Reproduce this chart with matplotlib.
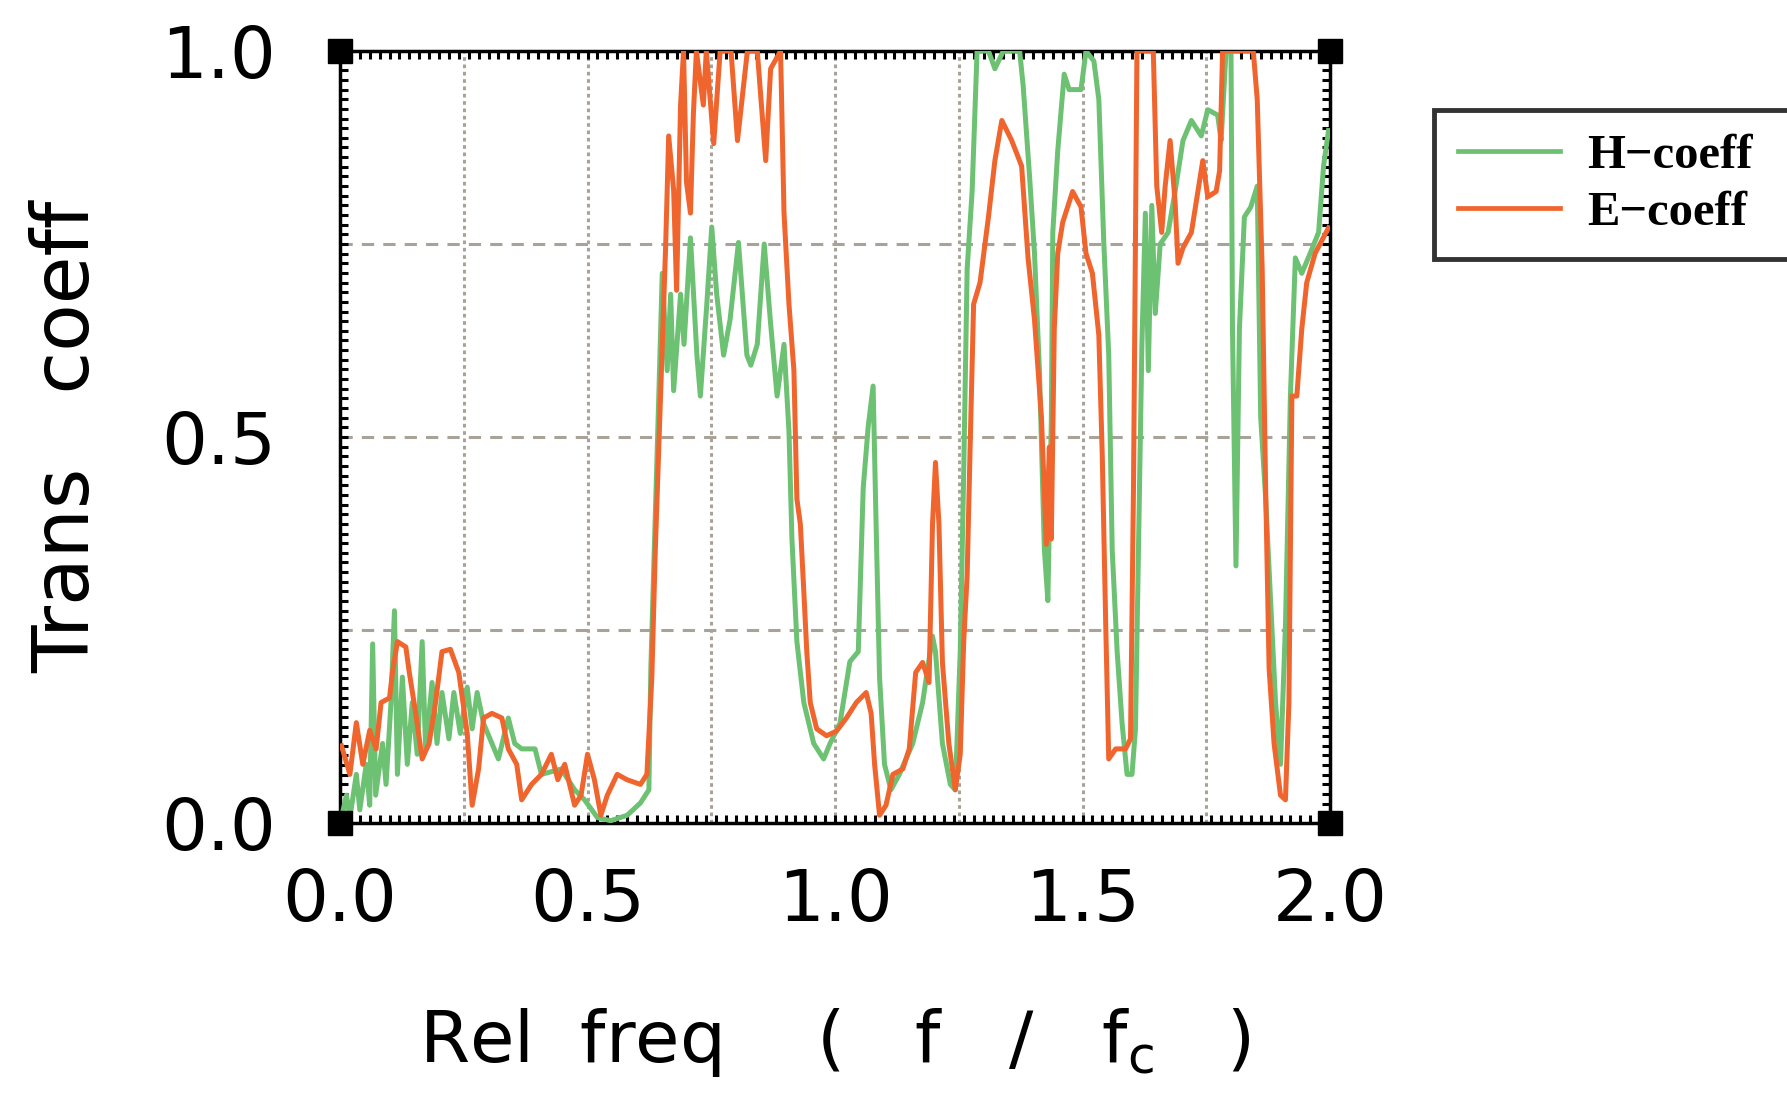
"""Transmission coefficient vs relative frequency (H and E polarisation)."""

import matplotlib
matplotlib.use("Agg")
import matplotlib.pyplot as plt
from matplotlib.ticker import MultipleLocator, FixedLocator
from matplotlib.lines import Line2D

# --- data: (relative frequency, transmission) ------------------------------
h_points = [
    (0.003, 0.007), (0.013, 0.036), (0.02, 0.007), (0.033, 0.063), (0.04, 0.017),
    (0.053, 0.076), (0.06, 0.023), (0.066, 0.232), (0.072, 0.036), (0.086, 0.103),
    (0.093, 0.05), (0.103, 0.156), (0.11, 0.275), (0.116, 0.063), (0.126, 0.189),
    (0.136, 0.076), (0.146, 0.156), (0.156, 0.089), (0.166, 0.235), (0.173, 0.096),
    (0.186, 0.182), (0.196, 0.103), (0.206, 0.169), (0.22, 0.109), (0.23, 0.169),
    (0.243, 0.116), (0.257, 0.176), (0.267, 0.122), (0.277, 0.169), (0.29, 0.129),
    (0.307, 0.103), (0.32, 0.083), (0.34, 0.136), (0.353, 0.103), (0.367, 0.096),
    (0.394, 0.096), (0.407, 0.063), (0.447, 0.07), (0.474, 0.043), (0.494, 0.03),
    (0.52, 0.007), (0.547, 0.003), (0.58, 0.01), (0.607, 0.026), (0.624, 0.043),
    (0.628, 0.202), (0.638, 0.42), (0.644, 0.553), (0.651, 0.712), (0.661, 0.586),
    (0.668, 0.685), (0.674, 0.56), (0.688, 0.685), (0.695, 0.62), (0.708, 0.758),
    (0.721, 0.606), (0.728, 0.553), (0.741, 0.672), (0.751, 0.772), (0.761, 0.685),
    (0.775, 0.606), (0.788, 0.652), (0.805, 0.752), (0.822, 0.606), (0.83, 0.593),
    (0.843, 0.62), (0.857, 0.75), (0.87, 0.646), (0.883, 0.553), (0.897, 0.62),
    (0.907, 0.507), (0.913, 0.368), (0.923, 0.235), (0.937, 0.156), (0.957, 0.103),
    (0.977, 0.083), (0.99, 0.103), (1.01, 0.129), (1.03, 0.209), (1.047, 0.222),
    (1.057, 0.434), (1.067, 0.513), (1.077, 0.566), (1.083, 0.387), (1.09, 0.189),
    (1.1, 0.076), (1.113, 0.043), (1.13, 0.063), (1.157, 0.103), (1.177, 0.156),
    (1.197, 0.242), (1.203, 0.222), (1.217, 0.103), (1.233, 0.05), (1.243, 0.043),
    (1.253, 0.222), (1.26, 0.454), (1.267, 0.718), (1.277, 0.818), (1.287, 1.0),
    (1.31, 1.0), (1.323, 0.977), (1.34, 1.0), (1.373, 1.0), (1.38, 0.956),
    (1.393, 0.838), (1.403, 0.738), (1.413, 0.586), (1.423, 0.354), (1.43, 0.288),
    (1.437, 0.52), (1.44, 0.765), (1.45, 0.871), (1.463, 0.97), (1.473, 0.95),
    (1.497, 0.95), (1.507, 1.0), (1.523, 0.987), (1.533, 0.937), (1.543, 0.752),
    (1.553, 0.606), (1.56, 0.354), (1.57, 0.222), (1.58, 0.129), (1.59, 0.063),
    (1.6, 0.063), (1.607, 0.122), (1.613, 0.354), (1.62, 0.62), (1.627, 0.79),
    (1.633, 0.586), (1.64, 0.8), (1.647, 0.66), (1.657, 0.75), (1.673, 0.765),
    (1.687, 0.818), (1.703, 0.884), (1.72, 0.91), (1.74, 0.89), (1.753, 0.924),
    (1.773, 0.917), (1.78, 0.884), (1.79, 1.0), (1.8, 1.0), (1.803, 0.64),
    (1.81, 0.333), (1.817, 0.64), (1.827, 0.785), (1.84, 0.798), (1.853, 0.825),
    (1.86, 0.526), (1.87, 0.42), (1.88, 0.288), (1.89, 0.156), (1.9, 0.076),
    (1.91, 0.255), (1.92, 0.553), (1.93, 0.732), (1.943, 0.712), (1.96, 0.738),
    (1.977, 0.765), (1.987, 0.851), (1.997, 0.897),
]

e_points = [
    (0.003, 0.10), (0.02, 0.063), (0.033, 0.13), (0.046, 0.076), (0.06, 0.12),
    (0.073, 0.096), (0.083, 0.156), (0.1, 0.162), (0.106, 0.195), (0.116, 0.235),
    (0.133, 0.228), (0.14, 0.195), (0.153, 0.142), (0.166, 0.083), (0.18, 0.103),
    (0.193, 0.156), (0.206, 0.222), (0.223, 0.225), (0.24, 0.195), (0.257, 0.116),
    (0.267, 0.023), (0.28, 0.07), (0.29, 0.136), (0.307, 0.142), (0.327, 0.136),
    (0.34, 0.096), (0.357, 0.076), (0.367, 0.03), (0.387, 0.05), (0.407, 0.063),
    (0.427, 0.089), (0.44, 0.056), (0.454, 0.076), (0.474, 0.023), (0.487, 0.036),
    (0.5, 0.089), (0.514, 0.056), (0.527, 0.01), (0.54, 0.036), (0.56, 0.063),
    (0.58, 0.056), (0.607, 0.05), (0.62, 0.063), (0.63, 0.189), (0.637, 0.354),
    (0.644, 0.487), (0.651, 0.62), (0.658, 0.75), (0.664, 0.89), (0.674, 0.82),
    (0.68, 0.69), (0.688, 0.93), (0.694, 1.0), (0.70, 0.83), (0.708, 0.79),
    (0.714, 0.92), (0.72, 1.0), (0.734, 0.93), (0.74, 1.0), (0.755, 0.88),
    (0.768, 1.0), (0.79, 1.0), (0.803, 0.884), (0.823, 1.0), (0.843, 1.0),
    (0.86, 0.858), (0.87, 0.977), (0.89, 1.0), (0.897, 0.79), (0.907, 0.672),
    (0.917, 0.586), (0.923, 0.42), (0.93, 0.387), (0.937, 0.30), (0.943, 0.222),
    (0.95, 0.156), (0.963, 0.122), (0.983, 0.113), (1.003, 0.119), (1.023, 0.136),
    (1.043, 0.156), (1.063, 0.169), (1.073, 0.142), (1.08, 0.076), (1.09, 0.01),
    (1.103, 0.023), (1.117, 0.063), (1.137, 0.07), (1.15, 0.096), (1.163, 0.195),
    (1.177, 0.208), (1.19, 0.182), (1.197, 0.387), (1.203, 0.467), (1.21, 0.387),
    (1.217, 0.208), (1.23, 0.103), (1.243, 0.043), (1.253, 0.089), (1.26, 0.235),
    (1.267, 0.321), (1.273, 0.487), (1.28, 0.672), (1.293, 0.70), (1.303, 0.75),
    (1.31, 0.785), (1.323, 0.858), (1.337, 0.91), (1.357, 0.884), (1.377, 0.851),
    (1.39, 0.732), (1.403, 0.652), (1.417, 0.526), (1.427, 0.361), (1.433, 0.487),
    (1.437, 0.368), (1.443, 0.64), (1.45, 0.738), (1.46, 0.778), (1.48, 0.818),
    (1.497, 0.798), (1.507, 0.738), (1.52, 0.712), (1.533, 0.632), (1.54, 0.474),
    (1.547, 0.255), (1.553, 0.083), (1.567, 0.096), (1.587, 0.096), (1.597, 0.109),
    (1.603, 0.434), (1.61, 1.0), (1.643, 1.0), (1.65, 0.825), (1.66, 0.765),
    (1.667, 0.825), (1.677, 0.884), (1.687, 0.805), (1.693, 0.725), (1.703, 0.745),
    (1.72, 0.765), (1.733, 0.818), (1.743, 0.858), (1.753, 0.811), (1.77, 0.818),
    (1.777, 0.845), (1.783, 1.0), (1.845, 1.0), (1.853, 0.937), (1.863, 0.718),
    (1.87, 0.434), (1.877, 0.20), (1.887, 0.103), (1.9, 0.036), (1.91, 0.03),
    (1.917, 0.156), (1.923, 0.553), (1.933, 0.553), (1.943, 0.64), (1.953, 0.70),
    (1.97, 0.738), (1.997, 0.771),
]

series_labels = ["H\u2212coeff", "E\u2212coeff"]
series_colors = ["#6cc173", "#f0642d"]
x_ticks = [0.0, 0.5, 1.0, 1.5, 2.0]
y_ticks = [0.0, 0.5, 1.0]
grid_x = [0.25, 0.5, 0.75, 1.0, 1.25, 1.5, 1.75]
grid_y = [0.25, 0.5, 0.75]

h_freq, h_coeff = zip(*h_points)
e_freq, e_coeff = zip(*e_points)

# --- figure -----------------------------------------------------------------
W, H = 1787, 1096
fig = plt.figure(figsize=(W / 100, H / 100), dpi=100)
ax = fig.add_axes([340 / W, 1 - 823 / H, 990 / W, 772 / H])

grid_col = "#a8a298"
for gx in grid_x:
    ax.axvline(gx, color=grid_col, lw=2.2, ls=(0, (1.2, 1.2)), zorder=1)
for gy in grid_y:
    ax.axhline(gy, color=grid_col, lw=2.2, ls=(0, (4, 3)), zorder=1)

ax.plot(h_freq, h_coeff, color=series_colors[0], lw=3.6, zorder=3)
ax.plot(e_freq, e_coeff, color=series_colors[1], lw=3.6, zorder=4)

ax.set_xlim(0, 2.0)
ax.set_ylim(0, 1.0)
ax.xaxis.set_major_locator(FixedLocator(x_ticks))
ax.yaxis.set_major_locator(FixedLocator(y_ticks))
ax.set_xticklabels([f"{v:.1f}" for v in x_ticks])
ax.set_yticklabels([f"{v:.1f}" for v in y_ticks])
ax.xaxis.set_minor_locator(MultipleLocator(0.02))
ax.yaxis.set_minor_locator(MultipleLocator(0.0125))
ax.tick_params(which="both", direction="in", top=True, right=True,
               length=6, width=2.2, color="black")
ax.tick_params(axis="x", which="major", labelsize=52, pad=32)
ax.tick_params(axis="y", which="major", labelsize=52, pad=46)
for side in ax.spines.values():
    side.set_linewidth(2.5)

# corner squares on the frame
ax.plot([0, 1, 0, 1], [0, 0, 1, 1], ls="none", marker="s", ms=17,
        color="black", transform=ax.transAxes, clip_on=False, zorder=6)

ax.set_xlabel("Rel  freq    (   f   /   f$_\\mathsf{c}$   )", fontsize=52, labelpad=50)
ax.set_ylabel("Trans   coeff", fontsize=56, labelpad=40)

handles = [Line2D([], [], color=c, lw=3.4) for c in series_colors]
leg = fig.legend(handles, series_labels, loc="upper left",
                 bbox_to_anchor=(1434 / W, 1 - 110 / H, 420 / W, 0.0),
                 mode="expand", fancybox=False, edgecolor="black",
                 prop={"family": "Liberation Serif", "weight": "bold", "size": 35},
                 handlelength=2.1, handletextpad=0.55, borderpad=0.5,
                 labelspacing=0.25, borderaxespad=0)
leg.get_frame().set_linewidth(3.5)

fig.savefig("out.png", dpi=100)
plt.close(fig)
